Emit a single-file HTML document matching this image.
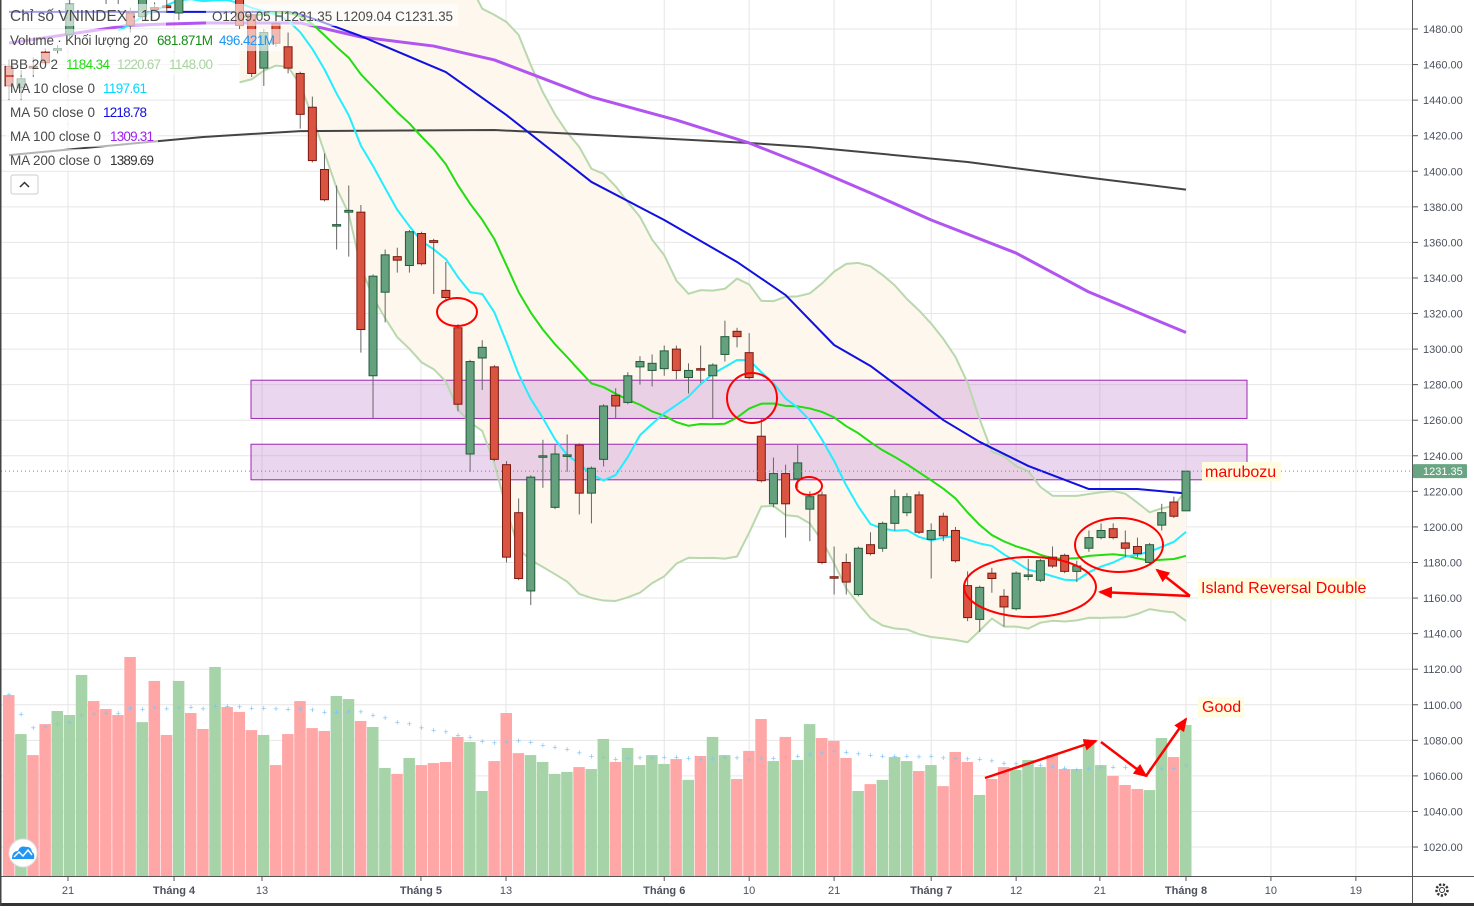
<!DOCTYPE html>
<html><head><meta charset="utf-8">
<style>
html,body{margin:0;padding:0;background:#fff;}
body{width:1474px;height:906px;overflow:hidden;font-family:"Liberation Sans","Noto Sans CJK SC",sans-serif;}
svg text{font-family:"Liberation Sans","Noto Sans CJK SC",sans-serif;}
</style></head>
<body>
<svg id="chart" width="1474" height="906" viewBox="0 0 1474 906" xmlns="http://www.w3.org/2000/svg">
<defs>
<clipPath id="plotClip"><rect x="1" y="0" width="1411" height="876"/></clipPath>
</defs>
<g id="grid"></g>
<g id="plot" clip-path="url(#plotClip)"></g>
<g id="axes"></g>
</svg>
<script>
// ---- data ----
const opens=[1459,1447,1459,1467,1468,1477,1500,1512,1505,1503,1489,1487,1492,1493,1489,1505,1503,1499,1508,1500,1488,1458,1483,1470,1455,1436,1401,1369.5,1377,1377,1285,1332,1352,1347,1365,1361,1333,1312,1241,1295,1290,1235,1208,1164,1239.5,1211,1240,1246,1219,1238,1274,1270,1290,1288,1289,1300,1284,1289,1285,1297,1310,1298,1251,1213,1230,1227,1210,1218,1172,1180,1162,1190,1188,1202,1208,1218,1193,1206,1198,1167,1148,1174,1161,1154,1172.5,1170,1183,1184,1175,1188,1194,1199,1191,1189,1180,1201,1214,1209.05];
const highs=[1463,1457,1464,1469,1471,1497,1512,1515,1508,1506,1492,1499,1495,1497,1499,1508,1506,1509,1510,1502,1490,1480,1485,1478,1456,1442,1410,1392,1392,1381,1342,1356,1357,1367,1366,1362,1349,1314,1294,1305,1291,1237,1216,1229,1249,1246,1252,1247,1234,1269,1278,1287,1296,1297,1302,1302,1292,1302,1292,1316,1312,1309,1261,1239,1235,1246,1220,1220,1189,1185,1189,1197,1203,1221,1219,1220,1202,1208,1200,1175,1167,1177,1165,1175,1182,1182,1189,1185,1181,1198,1202,1202,1198,1194,1191,1213,1217,1231.35];
const lows=[1440,1440,1453,1459,1466,1475,1498,1499,1494,1494,1478,1485,1489,1489,1485,1497,1497,1497,1497,1480,1453,1448,1470,1455,1424,1405,1383,1356,1352,1298,1261,1315,1343,1343,1347,1331,1328,1265,1231,1277,1237,1180,1170,1156,1222,1210,1231,1207,1202,1234,1261,1269,1280,1279,1285,1283,1275,1281,1261,1293,1301,1283,1225,1211,1194,1222,1192,1179,1162,1162,1161,1184,1186,1198,1206,1196,1171,1192,1180,1147,1141,1163,1144,1153,1170,1169,1177,1174,1169,1186,1193,1193,1183,1183,1179,1198,1205,1209.04];
const closes=[1448,1452,1458,1461,1469,1494,1510,1502,1499,1498,1482,1497,1491,1492,1497,1500,1499,1506,1500,1482,1455,1478,1472,1458,1432,1406,1384,1370,1378,1311,1341,1353,1350,1366,1348,1360,1329,1269,1293,1301,1238,1183,1171,1228,1240,1241,1240.5,1219,1233,1268,1268,1285,1293,1292,1299,1288,1288,1288.5,1291,1307,1307,1284,1226,1230,1213,1236,1217,1180,1171.5,1169,1188,1185,1202,1217,1217,1197,1198,1195,1181,1149,1166,1171,1155,1174,1173,1181,1178,1175,1178,1194,1198,1194,1188,1185,1190,1208,1206,1231.35];
const volumes=[817,641,546,686,745,727,908,790,754,727,989,695,881,637,881,736,664,944,763,741,659,637,501,641,790,668,655,813,799,700,673,488,461,533,501,510,515,628,605,384,519,736,555,546,515,461,470,492,483,619,515,578,501,546,506,528,434,542,628,546,438,565,709,519,628,524,686,623,610,533,384,415,434,537,519,474,501,406,560,515,366,438,492,479,524,492,546,483,483,614,501,452,411,393,388,623,537,682];
const ma50Idx=[0,16,23,24,29,36,41,48,54,60,64,68,71,77,80,84,89,93,97];
const ma50Val=[1489.6,1489.6,1489.6,1488.4,1476,1455.8,1431.6,1394,1372.6,1349,1330.4,1302.3,1290.5,1260.1,1247.8,1234.3,1221.3,1221.3,1218.78];
const ma100Idx=[0,10,16,24,29,35,40,48,55,61,66,71,76,83,89,97];
const ma100Val=[1472.1,1482.2,1483.4,1483.4,1475.5,1470.4,1462.6,1441.8,1428.8,1415.9,1402.4,1387.8,1372.6,1354,1332.1,1309.31];
const ma200Idx=[0,8,16,24,40,47,61,66,79,90,97];
const ma200Val=[1409.1,1414.2,1419.3,1422.6,1423.2,1420.9,1415.9,1413.6,1405.2,1395.6,1389.69];
const priceTicks=[1480,1460,1440,1420,1400,1380,1360,1340,1320,1300,1280,1260,1240,1220,1200,1180,1160,1140,1120,1100,1080,1060,1040,1020];
const dateLabels=["21","Tháng 4","13","Tháng 5","13","Tháng 6","10","21","Tháng 7","12","21","Tháng 8","10","19"];
const datePos=[4.86,13.6,20.85,33.95,40.96,54,61,68,76,83,89.9,97,104,111];
const dateBold=[false,true,false,true,false,true,false,false,true,false,false,true,false,false];
const zones=[[1282.5,1261],[1246.5,1226.5]];

// ---- scales ----
const X=i=>9+12.134*i;
const Y=p=>29+(1480-p)*1.7783;
const YV=v=>876-v/4.516;
const NS="http://www.w3.org/2000/svg";
function mk(tag,parent,attrs){const e=document.createElementNS(NS,tag);for(const k in attrs)e.setAttribute(k,attrs[k]);parent.appendChild(e);return e;}
const grid=document.getElementById('grid'),plot=document.getElementById('plot'),axes=document.getElementById('axes');

priceTicks.forEach(p=>{const l=mk('line',grid,{x1:1,x2:1412,y1:Y(p),y2:Y(p),stroke:'#e6e6e6','stroke-width':1});

});
datePos.forEach(d=>{const l=mk('line',grid,{x1:X(d),x2:X(d),y1:0,y2:876,stroke:'#e6e6e6','stroke-width':1});

});

function sma(arr,n,i){let s=0,c=0;for(let k=Math.max(0,i-n+1);k<=i;k++){s+=arr[k];c++;}return s/c;}
const N=closes.length;
const bbU=[],bbL=[],bbM=[],ma10=[];
for(let i=0;i<N;i++){const m=sma(closes,20,i);let v=0,c=0;for(let k=Math.max(0,i-19);k<=i;k++){v+=(closes[k]-m)**2;c++;}const sd=Math.sqrt(v/c);bbM.push(m);bbU.push(m+2*sd);bbL.push(m-2*sd);ma10.push(sma(closes,10,i));}
const start=19;
let band='';for(let i=start;i<N;i++)band+=(i==start?'M':'L')+X(i)+','+Y(bbU[i]);for(let i=N-1;i>=start;i--)band+='L'+X(i)+','+Y(bbL[i]);band+='Z';
const bf=mk('path',plot,{d:band,fill:'#fdf7ee',stroke:'none'});



zones.forEach(z=>{const r=mk('rect',plot,{x:251,y:Y(z[0]),width:996,height:Y(z[1])-Y(z[0]),fill:'rgba(190,120,205,0.3)',stroke:'#9c27b0','stroke-width':1});

});

for(let i=0;i<N;i++){const up=closes[i]>=opens[i];const r=mk('rect',plot,{x:X(i)-6,y:YV(volumes[i]),width:11.5,height:876-YV(volumes[i]),fill:up?'#a6d3a7':'#ffa7a7'});

}
for(let i=0;i<N;i++){const v=sma(volumes,20,i);const t=mk('text',plot,{x:X(i),y:YV(v)+3,'font-size':9,fill:'#7fc4f5','text-anchor':'middle'});t.textContent='+';

}

function line(vals,idxs,color,w,name){let d='';idxs.forEach((ix,k)=>{d+=(k?'L':'M')+X(ix)+','+Y(vals[k]);});const p=mk('path',plot,{d:d,fill:'none',stroke:color,'stroke-width':w,'stroke-linejoin':'round'});

}
const idxFrom=s=>{const a=[];for(let i=s;i<N;i++)a.push(i);return a;};
line(bbU.slice(start),idxFrom(start),'#b9d8ad',2,'bb-upper-line');
line(bbL.slice(start),idxFrom(start),'#b9d8ad',2,'bb-lower-line');
line(ma200Val,ma200Idx,'#444444',2,'ma200-line');
line(ma100Val,ma100Idx,'#b154f0',3,'ma100-line');
line(ma50Val,ma50Idx,'#1010e0',2,'ma50-line');
line(bbM.slice(start),idxFrom(start),'#22dd11',2,'bb-basis-line');
line(ma10.slice(9),idxFrom(9),'#22eeff',2,'ma10-line');

for(let i=0;i<N;i++){const up=closes[i]>=opens[i];const x=X(i);
const w=mk('line',plot,{x1:x,x2:x,y1:Y(highs[i]),y2:Y(lows[i]),stroke:'#666','stroke-width':1});


const top=Y(Math.max(opens[i],closes[i])),bot=Y(Math.min(opens[i],closes[i]));
const b=mk('rect',plot,{x:x-4,y:top,width:8,height:Math.max(1.5,bot-top),fill:up?'#65a17e':'#d95441',stroke:up?'#225c3a':'#7a1a10','stroke-width':1});

}

const lp=mk('line',plot,{x1:1,x2:1412,y1:Y(closes[N-1]),y2:Y(closes[N-1]),stroke:'#5a9a7a','stroke-width':1,'stroke-dasharray':'1,3'});



const ab=mk('line',axes,{x1:1412.5,x2:1412.5,y1:0,y2:906,stroke:'#555','stroke-width':1});


priceTicks.forEach(p=>{mk('line',axes,{x1:1413,x2:1418,y1:Y(p),y2:Y(p),stroke:'#555'});const t=mk('text',axes,{x:1423,y:Y(p)+4,'font-size':11,fill:'#4c525e'});t.textContent=p.toFixed(2);

});
const pl=mk('rect',axes,{x:1413,y:Y(closes[N-1])-7,width:54,height:14,fill:'#6aa583',rx:1});


const plt=mk('text',axes,{x:1423,y:Y(closes[N-1])+4,'font-size':11,fill:'#fff'});plt.textContent=closes[N-1].toFixed(2);



const bb=mk('line',axes,{x1:0,x2:1474,y1:876.5,y2:876.5,stroke:'#555'});


mk('rect',axes,{x:0,y:903,width:1474,height:3,fill:'#333'});
mk('rect',axes,{x:0,y:0,width:1.5,height:906,fill:'#444'});
dateLabels.forEach((s,k)=>{mk('line',axes,{x1:X(datePos[k]),x2:X(datePos[k]),y1:877,y2:881,stroke:'#555'});const t=mk('text',axes,{x:X(datePos[k]),y:894,'font-size':11,fill:'#4c525e','text-anchor':'middle','font-weight':dateBold[k]?'bold':'normal'});t.textContent=s;

});
</script>
<svg width="1474" height="906" style="position:absolute;left:0;top:0;pointer-events:none">
<defs><marker id="ah" markerWidth="14" markerHeight="12" refX="12" refY="6" orient="auto" markerUnits="userSpaceOnUse"><path d="M0,0 L14,6 L0,12 z" fill="#ff0000"/></marker></defs>
<g font-size="13.5" fill="#4a4a4a">
<rect x="6" y="4" width="160" height="22" fill="rgba(255,255,255,0.6)"/>
<rect x="206" y="4" width="252" height="22" fill="rgba(255,255,255,0.6)"/>
<rect x="6" y="29" width="276" height="22" fill="rgba(255,255,255,0.6)"/>
<rect x="6" y="53" width="212" height="22" fill="rgba(255,255,255,0.6)"/>
<rect x="6" y="77" width="146" height="22" fill="rgba(255,255,255,0.6)"/>
<rect x="6" y="101" width="146" height="22" fill="rgba(255,255,255,0.6)"/>
<rect x="6" y="125" width="152" height="22" fill="rgba(255,255,255,0.6)"/>
<rect x="6" y="149" width="152" height="22" fill="rgba(255,255,255,0.6)"/>
<text x="10" y="21" font-size="15.5">Chỉ số VNINDEX · 1D</text>
<text x="212" y="21" font-size="13.5" textLength="241">O1209.05 H1231.35 L1209.04 C1231.35</text>
<text x="10" y="45" textLength="138">Volume · Khối lượng 20</text>
<text x="157" y="45" fill="#1a8c1a" textLength="56">681.871M</text>
<text x="219" y="45" fill="#2196f3" textLength="56">496.421M</text>
<text x="10" y="69" textLength="48">BB 20 2</text>
<text x="66" y="69" fill="#22dd11" textLength="44">1184.34</text>
<text x="117" y="69" fill="#a9d3a0" textLength="44">1220.67</text>
<text x="169" y="69" fill="#a9d3a0" textLength="44">1148.00</text>
<text x="10" y="93" textLength="85">MA 10 close 0</text>
<text x="103" y="93" fill="#00d8ff" textLength="44">1197.61</text>
<text x="10" y="117" textLength="85">MA 50 close 0</text>
<text x="103" y="117" fill="#1010e0" textLength="44">1218.78</text>
<text x="10" y="141" textLength="91">MA 100 close 0</text>
<text x="110" y="141" fill="#a020f0" textLength="44">1309.31</text>
<text x="10" y="165" textLength="91">MA 200 close 0</text>
<text x="110" y="165" fill="#333" textLength="44">1389.69</text>
<rect x="11" y="175" width="27" height="19" rx="2" fill="#fff" stroke="#ccc"/>
<path d="M20,187 L24.5,182.5 L29,187" fill="none" stroke="#333" stroke-width="1.5"/>
</g>
<g fill="none" stroke="#ff0000" stroke-width="2">
<ellipse cx="457" cy="312" rx="20" ry="14"/>
<ellipse cx="752" cy="398" rx="25" ry="25"/>
<ellipse cx="809" cy="486" rx="13" ry="9"/>
<ellipse cx="1030" cy="587" rx="66" ry="30"/>
<ellipse cx="1119" cy="545" rx="44" ry="27"/>
</g>
<g stroke="#ff0000" stroke-width="2.5" fill="none">
<line x1="1190" y1="596" x2="1100" y2="592" marker-end="url(#ah)"/>
<line x1="1190" y1="596" x2="1157" y2="570" marker-end="url(#ah)"/>
<line x1="985" y1="778" x2="1096" y2="741" marker-end="url(#ah)"/>
<line x1="1101" y1="742" x2="1146" y2="776" marker-end="url(#ah)"/>
<line x1="1146" y1="776" x2="1186" y2="719" marker-end="url(#ah)"/>
</g>
<g font-size="16" fill="#ff0000">
<rect x="1202" y="462" width="79" height="19" fill="#fffde0"/>
<text x="1205" y="477">marubozu</text>
<rect x="1198" y="578" width="167" height="21" fill="#fffde0"/>
<text x="1201" y="593">Island Reversal Double</text>
<rect x="1198" y="697" width="46" height="20" fill="#fffde0"/>
<text x="1202" y="712">Good</text>
</g>
<g>
<circle cx="23" cy="853" r="14" fill="#fff" stroke="#e0e0e0"/>
<path d="M12,859 Q12,851 18,851 Q20,845 26,847 Q31,846 32,852 Q35,853 34,859 Z" fill="#2196f3"/>
<path d="M14,857 L19,852 L23,856 L28,850 L32,855" fill="none" stroke="#fff" stroke-width="1.5"/>
</g>
<g>
<circle cx="1442" cy="890" r="5.5" fill="none" stroke="#333" stroke-width="2.5" stroke-dasharray="2.2,1.6"/>
<circle cx="1442" cy="890" r="2.5" fill="#fff" stroke="#333" stroke-width="1"/>
</g>
</svg>
</body></html>
